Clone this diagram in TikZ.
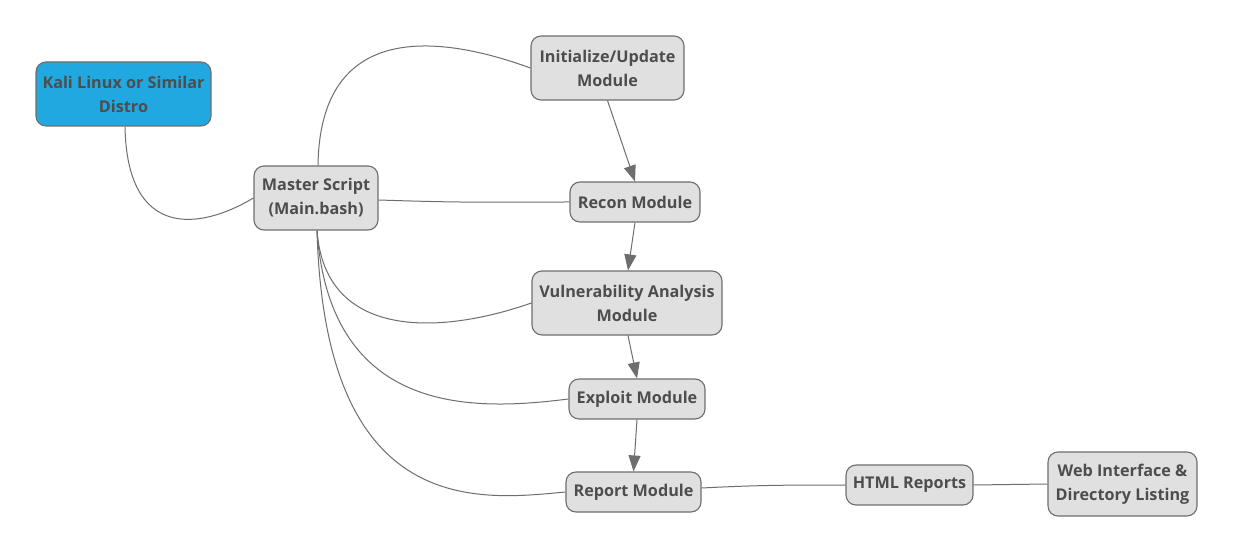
\documentclass[tikz,border=0pt]{standalone}
\usepackage{fontspec}
\setmainfont{Open Sans}
\usetikzlibrary{arrows.meta}
\definecolor{boxfill}{HTML}{E0E0E0}
\definecolor{boxline}{HTML}{6E6E6E}
\definecolor{txt}{HTML}{4D4D4D}
\definecolor{kali}{HTML}{22A8E0}
\tikzset{
  box/.style={draw=boxline, fill=boxfill, line width=1.1pt, rounded corners=10pt,
    align=center, text=txt, font=\fontsize{16.2}{24}\selectfont\bfseries,
    inner sep=0pt},
  link/.style={draw=boxline, line width=1pt},
  flow/.style={draw=boxline, line width=1pt, -{Triangle[width=12pt,length=16pt]}}
}
\begin{document}
\begin{tikzpicture}[x=1pt,y=-1pt]
\useasboundingbox[fill=white] (0,0) rectangle (1234,553);
\node[box, fill=kali, minimum width=175pt, minimum height=64pt] (kali) at (123.5,94) {Kali Linux or Similar\\Distro};
\node[box, minimum width=124pt, minimum height=64pt] (master) at (316,198) {Master Script\\(Main.bash)};
\node[box, minimum width=153pt, minimum height=64pt] (init) at (607.5,68) {Initialize/Update\\Module};
\node[box, minimum width=130pt, minimum height=40pt] (recon) at (635,202) {Recon Module};
\node[box, minimum width=190pt, minimum height=64pt] (vuln) at (627,303) {Vulnerability Analysis\\Module};
\node[box, minimum width=136pt, minimum height=40pt] (exploit) at (637,399) {Exploit Module};
\node[box, minimum width=135pt, minimum height=40pt] (report) at (633.5,492) {Report Module};
\node[box, minimum width=127pt, minimum height=40pt] (html) at (909.5,485) {HTML Reports};
\node[box, minimum width=149pt, minimum height=64pt] (web) at (1122.5,484) {Web Interface \&\\Directory Listing};

\draw[link] (kali.south) ++(1.5,0) .. controls (127,240) and (200,230) .. (master.west);
\draw[link] (master.north) ++(2,0) .. controls (320,20) and (440,35) .. (init.west);
\draw[link] (master.east) ++(0,2) .. controls (470,203) and (480,202) .. (recon.west);
\draw[link] (master.south) ++(1,0) .. controls (325,340) and (440,335) .. (vuln.west);
\draw[link] (master.south) ++(1,0) .. controls (330,420) and (480,410) .. (exploit.west);
\draw[link] (master.south) ++(1,0) .. controls (325,520) and (480,500) .. (report.west);
\draw[link] (report.east) ++(0,-4) .. controls (760,485) and (790,485) .. (html.west);
\draw[link] (html.east) -- (web.west);

\draw[flow] (init.south) -- (recon.north);
\draw[flow] (recon.south) -- ([xshift=1pt]vuln.north);
\draw[flow] ([xshift=1pt]vuln.south) -- (exploit.north);
\draw[flow] (exploit.south) -- (report.north);
\end{tikzpicture}
\end{document}
